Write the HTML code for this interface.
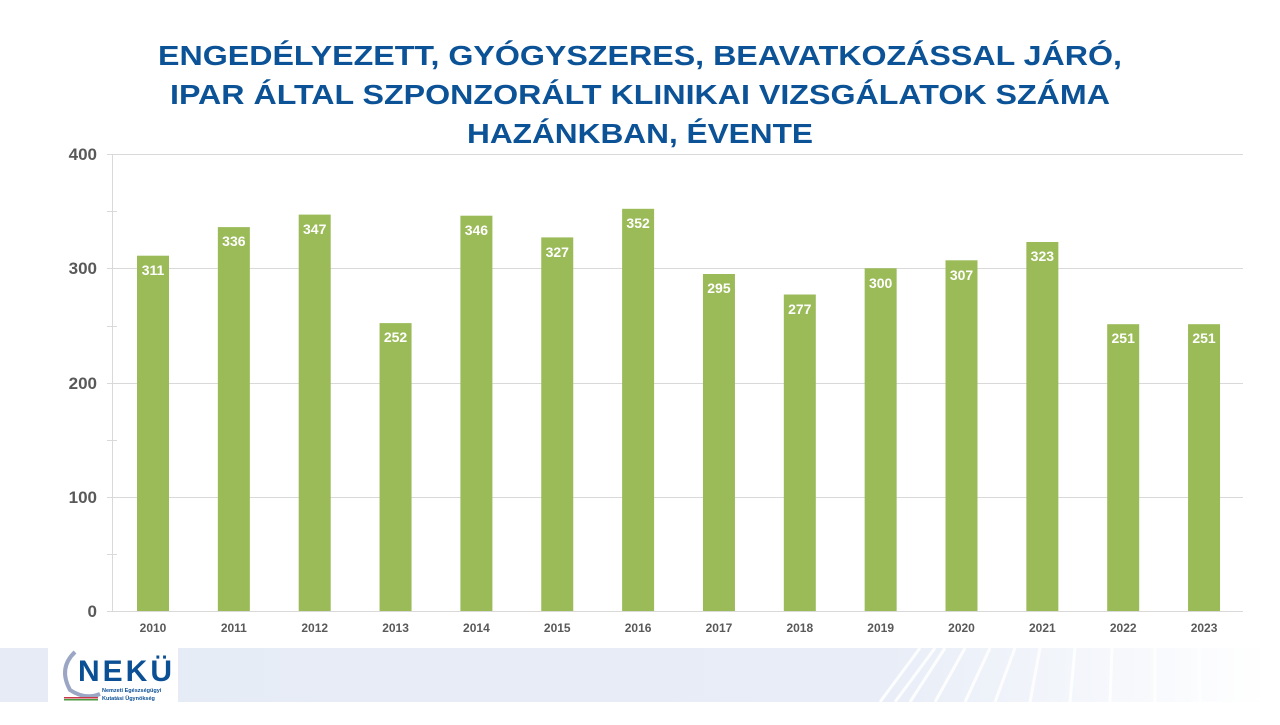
<!DOCTYPE html>
<html><head><meta charset="utf-8"><style>
body{margin:0;width:1280px;height:720px;background:#fff;overflow:hidden;font-family:"Liberation Sans",sans-serif}
</style></head><body>
<svg width="1280" height="720" viewBox="0 0 1280 720" xmlns="http://www.w3.org/2000/svg" font-family="Liberation Sans, sans-serif">
<defs>
<linearGradient id="fb" x1="0" x2="1" y1="0" y2="0">
<stop offset="0" stop-color="#e6ebf6"/><stop offset="0.7" stop-color="#e8edf7"/><stop offset="1" stop-color="#ffffff"/>
</linearGradient>
</defs>
<g font-weight="bold" fill="#0b5296" font-size="28" text-anchor="middle">
<text x="640" y="65" textLength="964" lengthAdjust="spacingAndGlyphs">ENGEDÉLYEZETT, GYÓGYSZERES,  BEAVATKOZÁSSAL JÁRÓ,</text>
<text x="640" y="104" textLength="940" lengthAdjust="spacingAndGlyphs">IPAR ÁLTAL SZPONZORÁLT  KLINIKAI VIZSGÁLATOK SZÁMA</text>
<text x="640" y="143" textLength="346" lengthAdjust="spacingAndGlyphs">HAZÁNKBAN,  ÉVENTE</text>
</g>
<g stroke="#d9d9d9" stroke-width="1">
<line x1="107" y1="154.5" x2="1243" y2="154.5"/>
<line x1="107" y1="268.5" x2="1243" y2="268.5"/>
<line x1="107" y1="383.5" x2="1243" y2="383.5"/>
<line x1="107" y1="497.5" x2="1243" y2="497.5"/>
<line x1="107" y1="611.5" x2="1243" y2="611.5"/>
<line x1="112.5" y1="154" x2="112.5" y2="611"/>
<line x1="107" y1="211.5" x2="117" y2="211.5"/>
<line x1="107" y1="326.5" x2="117" y2="326.5"/>
<line x1="107" y1="440.5" x2="117" y2="440.5"/>
<line x1="107" y1="554.5" x2="117" y2="554.5"/>
</g>
<g font-size="17" font-weight="bold" fill="#595959" text-anchor="end">
<text x="97" y="160">400</text><text x="97" y="274">300</text><text x="97" y="389">200</text><text x="97" y="503">100</text><text x="97" y="617">0</text>
</g>
<g fill="#9bbb59">
<rect x="137" y="255.7" width="32" height="355.3"/>
<rect x="217.85" y="227.1" width="32" height="383.9"/>
<rect x="298.7" y="214.6" width="32" height="396.4"/>
<rect x="379.55" y="323.1" width="32" height="287.9"/>
<rect x="460.4" y="215.7" width="32" height="395.3"/>
<rect x="541.25" y="237.4" width="32" height="373.6"/>
<rect x="622.1" y="208.8" width="32" height="402.2"/>
<rect x="702.95" y="274" width="32" height="337"/>
<rect x="783.8" y="294.5" width="32" height="316.5"/>
<rect x="864.65" y="268.25" width="32" height="342.75"/>
<rect x="945.5" y="260.3" width="32" height="350.7"/>
<rect x="1026.35" y="242" width="32" height="369"/>
<rect x="1107.2" y="324.2" width="32" height="286.8"/>
<rect x="1188.05" y="324.2" width="32" height="286.8"/>
</g>
<g font-size="14" font-weight="bold" fill="#fff" text-anchor="middle">
<text x="153" y="275">311</text>
<text x="233.85" y="246">336</text>
<text x="314.7" y="234">347</text>
<text x="395.55" y="342">252</text>
<text x="476.4" y="235">346</text>
<text x="557.25" y="257">327</text>
<text x="638.1" y="228">352</text>
<text x="718.95" y="293">295</text>
<text x="799.8" y="314">277</text>
<text x="880.65" y="288">300</text>
<text x="961.5" y="280">307</text>
<text x="1042.35" y="261">323</text>
<text x="1123.2" y="343">251</text>
<text x="1204.05" y="343">251</text>
</g>
<g font-size="12" font-weight="bold" fill="#595959" text-anchor="middle">
<text x="153" y="632">2010</text>
<text x="233.85" y="632">2011</text>
<text x="314.7" y="632">2012</text>
<text x="395.55" y="632">2013</text>
<text x="476.4" y="632">2014</text>
<text x="557.25" y="632">2015</text>
<text x="638.1" y="632">2016</text>
<text x="718.95" y="632">2017</text>
<text x="799.8" y="632">2018</text>
<text x="880.65" y="632">2019</text>
<text x="961.5" y="632">2020</text>
<text x="1042.35" y="632">2021</text>
<text x="1123.2" y="632">2022</text>
<text x="1204.05" y="632">2023</text>
</g>
<rect x="0" y="648" width="1268" height="54" fill="url(#fb)"/>
<g stroke="#ffffff" stroke-width="3" fill="none" opacity="0.9">
<path d="M880 702 L920 648"/><path d="M895 702 L935 648"/><path d="M910 702 L945 648"/>
<path d="M935 702 L965 648"/><path d="M965 702 L990 648"/><path d="M995 702 L1015 648"/>
<path d="M1030 702 L1040 648"/><path d="M1070 702 L1075 648"/><path d="M1110 702 L1112 648"/>
<path d="M1155 702 L1155 648"/><path d="M1200 702 L1199 648"/>
</g>
<rect x="48" y="648" width="130" height="54" fill="#fff"/>
<path d="M75 652 Q58 668 70 690 Q85 700 100 694" stroke="#9aa6c4" stroke-width="4" fill="none"/>
<text x="78" y="681" font-size="30" font-weight="bold" fill="#0b4f94" letter-spacing="3">NEKÜ</text>
<text x="102" y="692" font-size="5.5" font-weight="bold" fill="#0b4f94">Nemzeti Egészségügyi</text>
<text x="102" y="700" font-size="5.5" font-weight="bold" fill="#0b4f94">Kutatási Ügynökség</text>
<rect x="64" y="697" width="34" height="1.5" fill="#c8384a"/><rect x="64" y="699" width="34" height="1.5" fill="#4a9a3e"/>
</svg>
</body></html>
